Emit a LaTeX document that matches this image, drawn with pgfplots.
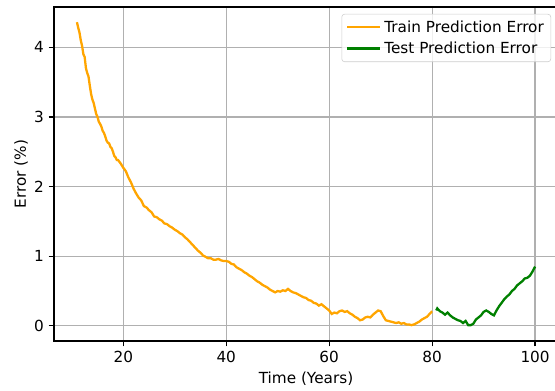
\documentclass[border=0pt]{standalone}
\usepackage{fontspec}
\setmainfont{DejaVu Sans}
\usepackage{pgfplots}
\pgfplotsset{compat=1.18}
\definecolor{mplorange}{RGB}{255,165,0}
\definecolor{mplgreen}{RGB}{0,128,0}
\definecolor{gridgray}{RGB}{176,176,176}
\definecolor{legendgray}{RGB}{204,204,204}
\begin{document}
\begin{tikzpicture}
\begin{axis}[
  scale only axis, width=362.9pt, height=240.5pt,
  xmin=6.55, xmax=104.45, ymin=-0.218, ymax=4.578,
  xtick={20,40,60,80,100}, ytick={0,1,2,3,4},
  grid=major, grid style={gridgray, line width=0.88pt},
  axis line style={line width=0.88pt},
  tick style={black, line width=0.88pt},
  tick align=outside, major tick length=3.85pt,
  xtick pos=lower, ytick pos=left,
  /pgf/number format/assume math mode=true,
  ticklabel style={font=\fontsize{11}{13}\selectfont},
  label style={font=\fontsize{11}{13}\selectfont},
  xlabel={Time (Years)}, ylabel={Error (\%)}, ylabel shift=-2.5pt,
  legend style={at={(1,1)}, anchor=north east, xshift=-5pt, yshift=-5pt,
    draw=legendgray, rounded corners=2pt, fill=white, fill opacity=0.8, text opacity=1,
    font=\fontsize{11}{13}\selectfont, inner xsep=3pt, inner ysep=2.5pt, row sep=1.5pt},
  legend cell align=left,
  legend image code/.code={\draw[#1] (0pt,0pt) -- (24pt,0pt);},
]
\addplot[mplorange, line width=1.65pt] coordinates {
(11.0,4.36)(11.25,4.28)(11.5,4.21)(11.75,4.10)(12,4.02)(12.25,3.90)(12.5,3.86)(12.75,3.70)(13,3.63)(13.25,3.58)(13.5,3.45)(13.75,3.33)(14,3.25)(14.25,3.20)(14.5,3.12)(14.75,3.04)(15,3.00)(15.25,2.93)(15.5,2.90)(15.75,2.86)(16,2.80)(16.25,2.77)(16.5,2.72)(16.75,2.66)(17,2.63)(17.25,2.62)(17.5,2.57)(17.75,2.55)(18,2.50)(18.25,2.44)(18.5,2.42)(18.75,2.38)(19,2.38)(19.5,2.33)(20,2.27)(20.5,2.22)(21,2.13)(21.5,2.06)(22,1.97)(22.5,1.90)(23,1.84)(23.5,1.80)(24,1.72)(24.5,1.70)(25,1.66)(25.5,1.63)(26,1.57)(26.5,1.56)(27,1.53)(27.5,1.51)(28,1.47)(28.5,1.46)(29,1.43)(29.5,1.41)(30,1.38)(30.5,1.36)(31,1.33)(31.5,1.31)(32,1.27)(32.5,1.24)(33,1.20)(33.5,1.16)(34,1.12)(34.5,1.08)(35,1.05)(35.5,1.01)(36,0.99)(36.5,0.97)(37,0.97)(37.5,0.95)(38,0.95)(38.5,0.96)(39,0.94)(39.5,0.93)(40,0.93)(40.5,0.92)(41,0.89)(41.5,0.88)(42,0.84)(42.5,0.82)(43,0.80)(43.5,0.77)(44,0.75)(44.5,0.72)(45,0.70)(45.5,0.67)(46,0.64)(46.5,0.62)(47,0.59)(47.5,0.57)(48,0.55)(48.5,0.52)(49,0.50)(49.5,0.48)(50,0.50)(50.5,0.49)(51,0.51)(51.5,0.50)(52,0.53)(52.5,0.50)(53,0.48)(53.5,0.47)(54,0.45)(54.5,0.43)(55,0.41)(55.5,0.40)(56,0.37)(56.5,0.36)(57,0.33)(57.5,0.32)(58,0.29)(58.5,0.31)(59,0.28)(59.5,0.25)(60,0.22)(60.5,0.17)(61,0.19)(61.5,0.18)(62,0.21)(62.5,0.22)(63,0.20)(63.5,0.21)(64,0.18)(64.5,0.16)(65,0.13)(65.5,0.11)(66,0.08)(66.5,0.09)(67,0.12)(67.5,0.13)(68,0.12)(68.5,0.16)(69,0.19)(69.5,0.22)(70,0.21)(70.5,0.14)(71,0.08)(71.5,0.07)(72,0.06)(72.5,0.05)(73,0.04)(73.5,0.05)(74,0.03)(74.5,0.04)(75,0.02)(75.5,0.02)(76,0.01)(76.5,0.02)(77,0.04)(77.5,0.06)(78,0.09)(78.5,0.11)(79,0.13)(79.5,0.17)(80,0.21)
};
\addlegendentry{Train Prediction Error}
\addplot[mplgreen, line width=1.65pt] coordinates {
(80.8,0.22)(81,0.25)(81.5,0.21)(82,0.19)(82.5,0.16)(83,0.19)(83.5,0.15)(84,0.12)(84.5,0.10)(85,0.08)(85.5,0.07)(86,0.04)(86.5,0.07)(87,0.01)(87.5,0.01)(88,0.03)(88.5,0.09)(89,0.12)(89.5,0.15)(90,0.20)(90.5,0.22)(91,0.20)(91.5,0.17)(92,0.15)(92.5,0.22)(93,0.28)(93.5,0.33)(94,0.38)(94.5,0.42)(95,0.45)(95.5,0.50)(96,0.53)(96.5,0.58)(97,0.61)(97.5,0.64)(98,0.68)(98.5,0.69)(99,0.72)(99.5,0.78)(100,0.85)
};
\addlegendentry{Test Prediction Error}
\end{axis}
\pgfresetboundingbox
\path[use as bounding box] ([xshift=-38.9pt,yshift=-36pt]current axis.south west) rectangle ([xshift=-2.16pt,yshift=5.04pt]current axis.north east);
\end{tikzpicture}
\end{document}
